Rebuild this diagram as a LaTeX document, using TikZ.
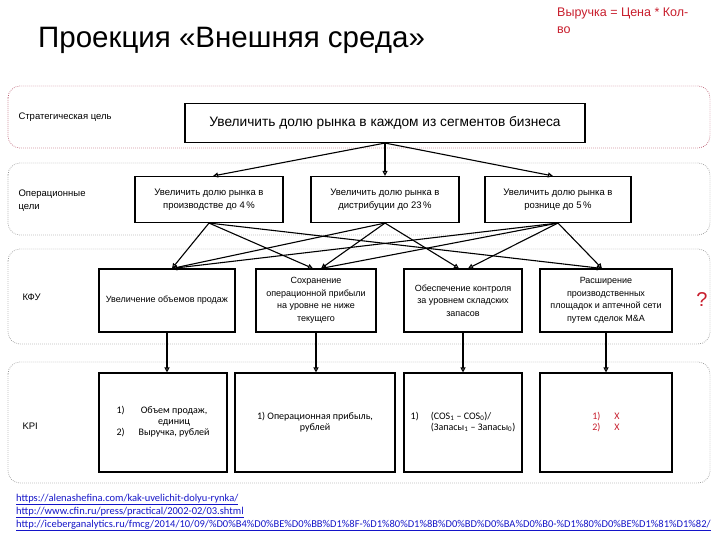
\documentclass[tikz,border=0pt]{standalone}
\usepackage{fontspec}
\setmainfont{Liberation Sans}
\newfontfamily\carl{Carlito}
\usetikzlibrary{arrows.meta,calc}
\definecolor{redtxt}{RGB}{200,30,45}
\definecolor{bandred}{RGB}{185,90,110}
\definecolor{bandgray}{RGB}{150,150,150}
\definecolor{linkblue}{RGB}{20,20,200}
\tikzset{
  band/.style={draw=bandgray, line width=0.7pt, dash pattern=on 0.7pt off 1.3pt, rounded corners=12pt},
  box/.style={draw=black, line width=1.1pt, fill=white, align=center, inner sep=1pt},
  otext/.style={font=\fontsize{9.5}{13}\selectfont},
  ktext/.style={font=\fontsize{9}{12.5}\selectfont},
  ptext/.style={font=\carl\fontsize{10}{11}\selectfont},
  lbl/.style={anchor=west, align=left, font=\fontsize{9.5}{13}\selectfont},
  arr/.style={line width=1.1pt, -{Triangle[open,length=5pt,width=5pt]}},
  link/.style={anchor=base west, inner sep=0pt, text=linkblue, font=\carl\fontsize{10.5}{12}\selectfont}
}
\begin{document}
\begin{tikzpicture}[x=1pt,y=-1pt]
\useasboundingbox (0,0) rectangle (720,540);
% title
\node[anchor=base west, inner sep=0pt, font=\fontsize{29.5}{33}\selectfont] (title) at (38,48) {Проекция «Внешняя среда»};
\node[anchor=north west, inner sep=0pt, align=left, text=redtxt, font=\fontsize{12.5}{17}\selectfont] (formula) at (557,8) {Выручка = Цена * Кол-\\во};
% bands
\draw[band, draw=bandred] (8,86) rectangle (710,148);
\draw[band] (8,163) rectangle (710,235);
\draw[band] (8,249) rectangle (710,344);
\draw[band] (8,362) rectangle (710,483);
% labels
\node[lbl] (l1) at (15,117) {Стратегическая цель};
\node[lbl] (l2) at (15,200.5) {Операционные\\цели};
\node[lbl] (l3) at (19,297) {КФУ};
\node[lbl] (l4) at (19,426) {KPI};
% top
\node[box, minimum width=400pt, minimum height=39pt, font=\fontsize{13.7}{15}\selectfont] (top) at (385,123) {Увеличить долю рынка в каждом из сегментов бизнеса};
% operational
\node[box, otext, minimum width=148pt, minimum height=46pt] (o1) at (209,199.5) {Увеличить долю рынка в\\производстве до 4\,\%};
\node[box, otext, minimum width=148pt, minimum height=46pt] (o2) at (385,199.5) {Увеличить долю рынка в\\дистрибуции до 23\,\%};
\node[box, otext, minimum width=146pt, minimum height=46pt] (o3) at (558,199.5) {Увеличить долю рынка в\\рознице до 5\,\%};
% KFU
\node[box, ktext, minimum width=136pt, minimum height=63pt] (k1) at (167,300.5) {Увеличение объемов продаж};
\node[box, ktext, minimum width=120pt, minimum height=63pt] (k2) at (316,300.5) {Сохранение\\операционной прибыли\\на уровне не ниже\\текущего};
\node[box, ktext, minimum width=118pt, minimum height=63pt] (k3) at (463,300.5) {Обеспечение контроля\\за уровнем складских\\запасов};
\node[box, ktext, minimum width=132pt, minimum height=63pt] (k4) at (606,300.5) {Расширение\\производственных\\площадок и аптечной сети\\путем сделок M\&A};
\node[text=redtxt, font=\fontsize{20}{22}\selectfont, inner sep=0pt] (q) at (702,300) {?};
% KPI
\node[box, ptext, minimum width=128pt, minimum height=99pt] (p1) at (163,422.5) {\begin{tabular}{@{}l@{\hspace{14pt}}c@{}}1) & Объем продаж,\\ & единиц\\2) & Выручка, рублей\end{tabular}};
\node[box, ptext, minimum width=160pt, minimum height=99pt] (p2) at (315,422.5) {1) Операционная прибыль,\\рублей};
\node[box, ptext, minimum width=118pt, minimum height=99pt] (p3) at (463,422.5) {\begin{tabular}{@{}l@{\hspace{12pt}}l@{}}1) & (COS\textsubscript{1} – COS\textsubscript{0})/\\ & (Запасы\textsubscript{1} – Запасы\textsubscript{0})\end{tabular}};
\node[box, ptext, minimum width=132pt, minimum height=99pt, text=redtxt] (p4) at (606,422.5) {\begin{tabular}{@{}l@{\hspace{14pt}}l@{}}1) & X\\2) & X\end{tabular}};
% arrows top -> operational
\draw[arr] (top.south) -- ([xshift=4pt]o1.north);
\draw[arr] (top.south) -- (o2.north);
\draw[arr] (top.south) -- ([xshift=-5pt]o3.north);
% operational -> KFU
\draw[arr] (o1.south) -- ([xshift=5pt]k1.north);
\draw[arr] (o1.south) -- ([xshift=-3pt]k2.north);
\draw[arr] (o1.south) -- ([xshift=-4pt]k4.north);
\draw[arr] (o2.south) -- ([xshift=5pt]k1.north);
\draw[arr] (o2.south) -- ([xshift=5pt]k2.north);
\draw[arr] (o2.south) -- ([xshift=-4pt]k3.north);
\draw[arr] (o3.south) -- ([xshift=5pt]k1.north);
\draw[arr] (o3.south) -- ([xshift=5pt]k2.north);
\draw[arr] (o3.south) -- ([xshift=5pt]k3.north);
\draw[arr] (o3.south) -- ([xshift=-4pt]k4.north);
% KFU -> KPI
\draw[arr] (k1.south) -- (k1.south |- p1.north);
\draw[arr] (k2.south) -- (k2.south |- p2.north);
\draw[arr] (k3.south) -- (k3.south |- p3.north);
\draw[arr] (k4.south) -- (k4.south |- p4.north);
% links
\node[link] (u1) at (16,501) {\underline{https://alenashefina.com/kak-uvelichit-dolyu-rynka/}};
\node[link] (u2) at (16,514) {\underline{http://www.cfin.ru/press/practical/2002-02/03.shtml}};
\node[link] (u3) at (16,527) {\underline{http://iceberganalytics.ru/fmcg/2014/10/09/\%D0\%B4\%D0\%BE\%D0\%BB\%D1\%8F-\%D1\%80\%D1\%8B\%D0\%BD\%D0\%BA\%D0\%B0-\%D1\%80\%D0\%BE\%D1\%81\%D1\%82/}};
\end{tikzpicture}
\end{document}
